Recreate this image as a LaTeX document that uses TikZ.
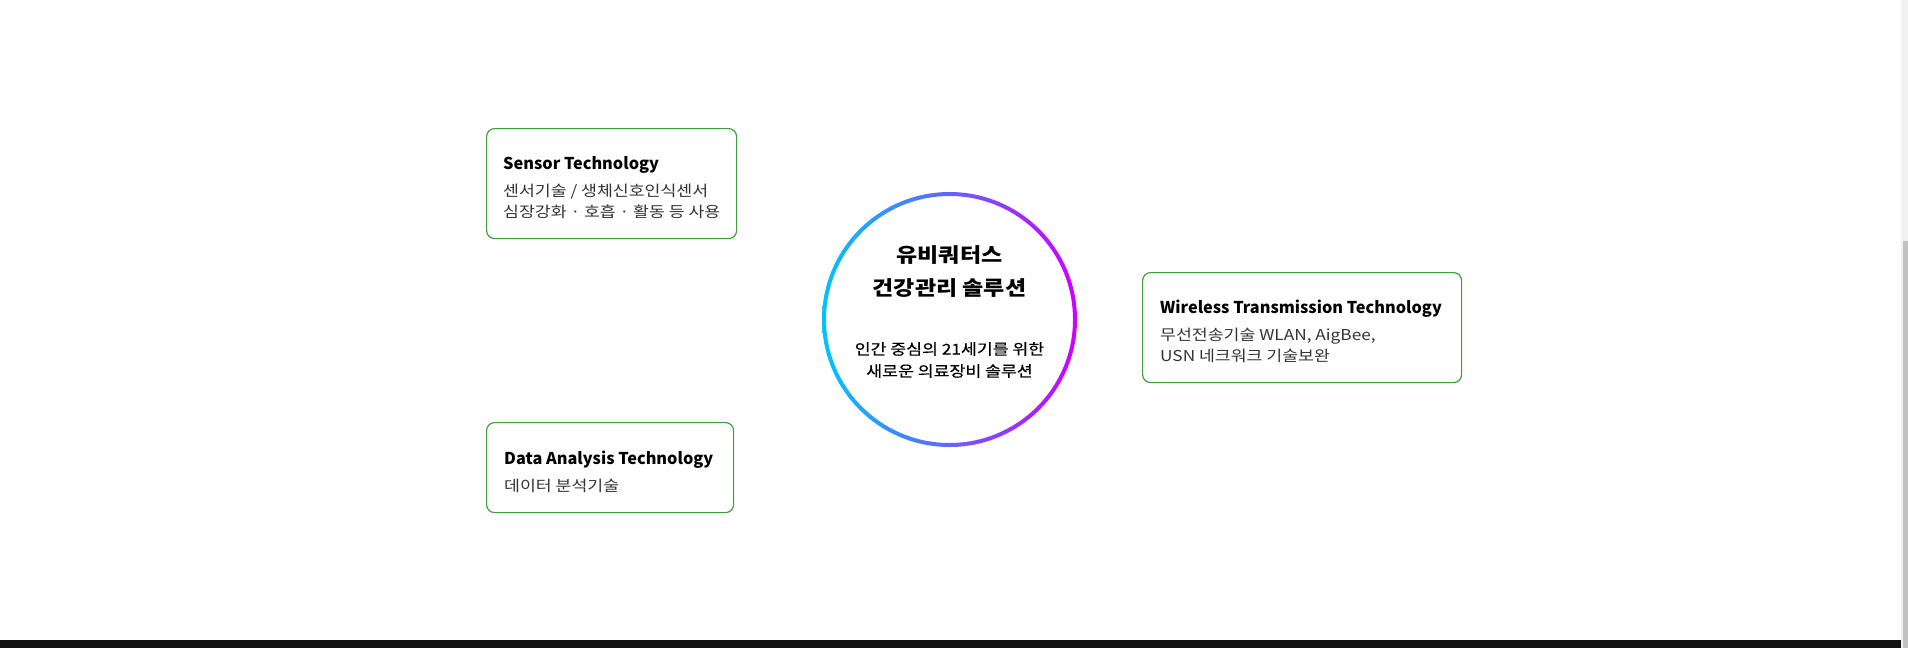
\documentclass[tikz,border=0pt]{standalone}
\usepackage{fontspec}
\setmainfont{Noto Sans CJK KR}[FakeStretch=1.15]
\newfontfamily\headfont{Noto Sans CJK KR}
\newfontfamily\medfont{Noto Sans CJK KR}[FakeBold=0.4, FakeStretch=1.15]
\usetikzlibrary{positioning}

\definecolor{cardgreen}{RGB}{62,160,62}
\definecolor{ringcyan}{RGB}{0,196,255}
\definecolor{ringpink}{RGB}{208,0,255}
\definecolor{barblack}{RGB}{17,17,17}
\definecolor{trackgray}{RGB}{241,241,241}
\definecolor{thumbgray}{RGB}{193,193,193}

\newcommand{\cardhead}[1]{{\fontsize{16.3}{21}\headfont\bfseries\color{black}#1}}

\begin{document}
\begin{tikzpicture}[x=1pt, y=-1pt,
    every node/.style={inner sep=0pt},
    card/.style={draw=cardgreen, line width=1.2pt, rounded corners=8pt, fill=white, anchor=north west},
    cardtext/.style={anchor=west, align=left, font=\fontsize{15}{21}\selectfont, text=black!80},
]

% page and browser frame
\fill[white] (0,0) rectangle (1908,648);
\useasboundingbox (0,0) rectangle (1908,648);
\fill[barblack] (0,640) rectangle (1901,648);
\fill[trackgray] (1901,0) rectangle (1908,648);
\fill[thumbgray] (1903,241) rectangle (1908,648);

% cards
\node[card, minimum width=250pt, minimum height=110pt] (sensor) at (486,128) {};
\node[card, minimum width=319pt, minimum height=110pt] (wireless) at (1142,272) {};
\node[card, minimum width=247pt, minimum height=90pt] (data) at (486,422) {};

\node[cardtext] (sensortxt) at ([shift={(17,4)}]sensor.west)
    {\cardhead{Sensor Technology}\\[6pt] 센서기술 / 생체신호인식센서\\ 심장강화 · 호흡 · 활동 등 사용};
\node[cardtext] (wirelesstxt) at ([shift={(18,4)}]wireless.west)
    {\cardhead{Wireless Transmission Technology}\\[6pt] 무선전송기술 WLAN, AigBee,\\ USN 네크워크 기술보완};
\node[cardtext] (datatxt) at ([shift={(18,4)}]data.west)
    {\cardhead{Data Analysis Technology}\\[6pt] 데이터 분석기술};

% centre ring
\node[circle, minimum size=255pt] (core) at (949.5,319.5) {};
\shade[left color=ringcyan, right color=ringpink, even odd rule]
    (core.center) circle (127.5pt) (core.center) circle (123.5pt);

\node[align=center, font=\fontsize{20}{33}\selectfont\bfseries] (coretitle) at (949.5,272)
    {유비쿼터스\\건강관리 솔루션};
\node[align=center, font=\fontsize{15}{22}\selectfont\medfont] (coresub) at (949.5,360)
    {인간 중심의 21세기를 위한\\새로운 의료장비 솔루션};

\end{tikzpicture}
\end{document}
